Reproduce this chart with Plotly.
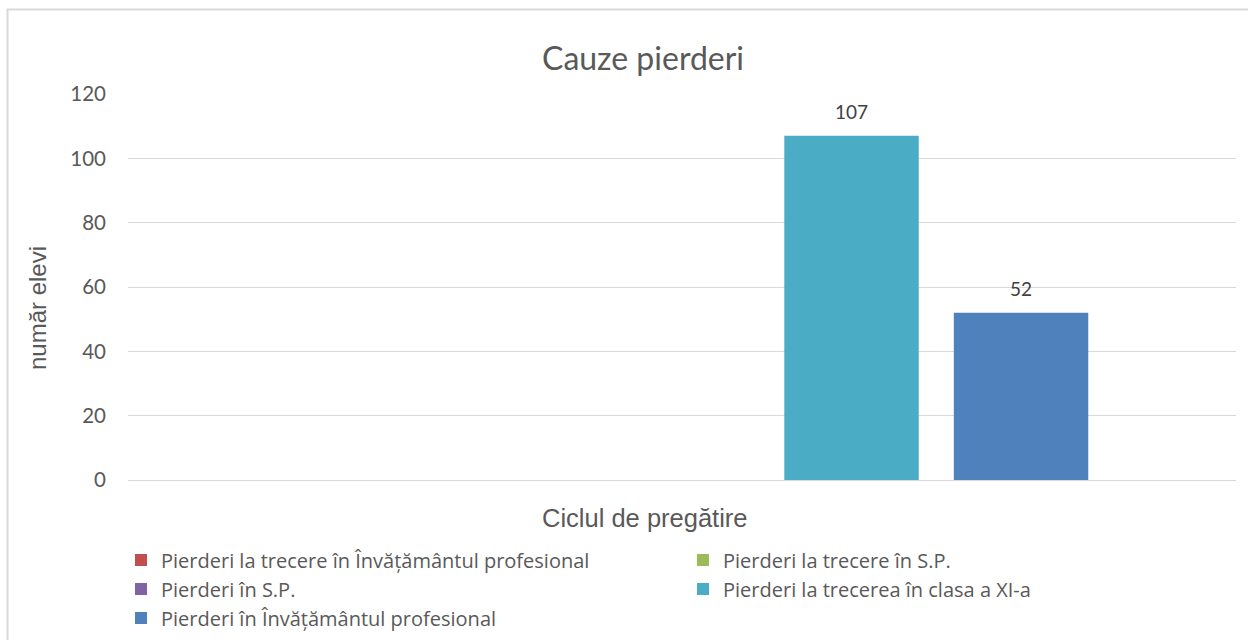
import plotly.graph_objects as go

categories = ["Ciclul de pregătire"]
series_names = [
    "Pierderi la trecere în Învățământul profesional",
    "Pierderi la trecere în S.P.",
    "Pierderi în S.P.",
    "Pierderi la trecerea în clasa a XI-a",
    "Pierderi în Învățământul profesional",
]
series_values = [0, 0, 0, 107, 52]
series_colors = ["#C0504D", "#9BBB59", "#8064A2", "#4BACC6", "#4F81BD"]
y_ticks = [0, 20, 40, 60, 80, 100, 120]

W, H = 1248, 640
L, R, T, B = 128, 12, 94, 160
pw, ph = W - L - R, H - T - B


def px_x(p):
    return (p - L) / pw


def px_y(p):
    return (H - B - p) / ph


def label(v):
    if not v:
        return ""
    return ("<span style='font-size:19px;fill:#404040'>%d</span><br>"
            "<span style='fill:rgba(0,0,0,0)'>.</span>" % v)


fig = go.Figure()
for name, val, col in zip(series_names, series_values, series_colors):
    fig.add_trace(go.Bar(
        name=name,
        x=[""],
        y=[val],
        marker=dict(color=col, line=dict(width=0)),
        text=[label(val)],
        texttemplate="%{text}",
        textposition="outside",
        textfont=dict(family="Lato", size=9, color="#404040"),
        cliponaxis=False,
        hoverinfo="skip",
    ))

fig.update_layout(
    width=W, height=H,
    margin=dict(l=L, r=R, t=T, b=B, autoexpand=False),
    paper_bgcolor="white",
    plot_bgcolor="white",
    barmode="group",
    bargap=0.235,
    bargroupgap=0.207,
    showlegend=True,
    legend=dict(
        orientation="h",
        x=px_x(121), xanchor="left",
        y=px_y(540.5), yanchor="top",
        entrywidth=517, entrywidthmode="pixels",
        font=dict(family="Open Sans", size=20, color="#595959"),
        traceorder="normal",
        itemclick=False, itemdoubleclick=False,
        tracegroupgap=0,
    ),
    xaxis=dict(
        showticklabels=False, showgrid=False, zeroline=False,
        showline=False, fixedrange=True,
    ),
    yaxis=dict(
        range=[0, 120],
        tickvals=y_ticks,
        ticktext=[str(v) for v in y_ticks],
        tickfont=dict(family="Lato", size=20.5, color="#595959"),
        showgrid=True, gridcolor="#D9D9D9", gridwidth=1,
        zeroline=True, zerolinecolor="#D9D9D9", zerolinewidth=1,
        showline=False,
        ticks="", ticklabelstandoff=21,
        fixedrange=True,
    ),
    annotations=[
        dict(text="Cauze pierderi", xref="paper", yref="paper",
             x=px_x(643), y=px_y(58), xanchor="center", yanchor="middle",
             showarrow=False, font=dict(family="Lato", size=32, color="#595959")),
        dict(text="Ciclul de pregătire", xref="paper", yref="paper",
             x=px_x(645), y=px_y(518), xanchor="center", yanchor="middle",
             showarrow=False, font=dict(family="Liberation Sans", size=25.5, color="#595959")),
        dict(text="număr elevi", xref="paper", yref="paper",
             x=px_x(37), y=px_y(308), xanchor="center", yanchor="middle",
             textangle=-90,
             showarrow=False, font=dict(family="Liberation Sans", size=24, color="#595959")),
    ],
    shapes=[
        dict(type="rect", xref="paper", yref="paper",
             x0=px_x(7.5), y0=px_y(700), x1=px_x(1300), y1=px_y(9.5),
             line=dict(color="#D9D9D9", width=2), fillcolor="rgba(0,0,0,0)",
             layer="below"),
    ],
)

fig.write_html("out.html", config={"displayModeBar": False},
               post_script="document.body.style.margin='0px';")
